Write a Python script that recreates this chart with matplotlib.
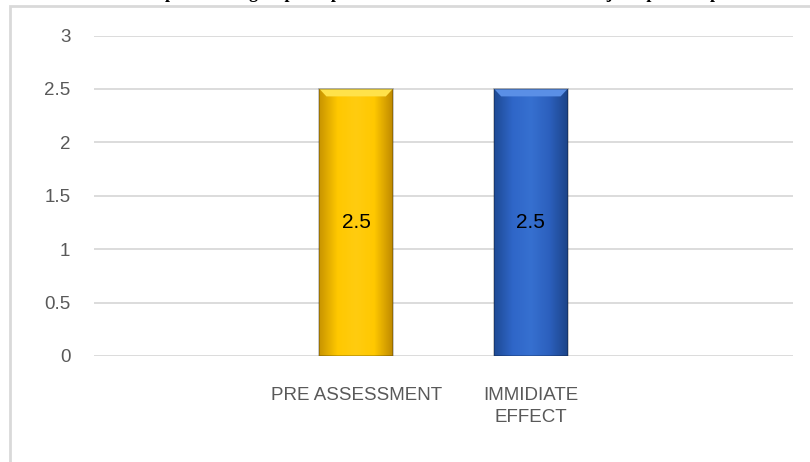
import numpy as np
import matplotlib
matplotlib.use("Agg")
import matplotlib.pyplot as plt
from matplotlib.colors import LinearSegmentedColormap
from matplotlib.patches import Rectangle, Polygon

categories = ["", "PRE ASSESSMENT", "IMMIDIATE\nEFFECT", ""]
values = [None, 2.5, 2.5, None]
yticks = [0, 0.5, 1, 1.5, 2, 2.5, 3]
title = "Graph 1: Intragroup comparison of NPRS in between the subjects pre and post test"

# side-dark / middle-light colours per bar, and a lighter top bevel
bar_shades = {
    1: ["#C89400", "#FFC800", "#FFCC10", "#FFC800", "#BF8A00"],
    2: ["#1E4A94", "#2F66C8", "#3670D0", "#2C60BE", "#1C4488"],
}
bevel = {1: "#FFE24A", 2: "#5A8FE6"}

fig = plt.figure(figsize=(8.1, 4.62), dpi=100)
ax = fig.add_axes([94 / 810, 1 - 356 / 462, (793 - 94) / 810, (356 - 35.5) / 462])

x = np.arange(len(categories))
w = 0.42
for i, v in enumerate(values):
    if v is None:
        continue
    bar = ax.bar(x[i], v, width=w, color="none", edgecolor="none", zorder=3)[0]
    cmap = LinearSegmentedColormap.from_list("b%d" % i, bar_shades[i])
    grad = np.linspace(0, 1, 200).reshape(1, -1)
    im = ax.imshow(grad, cmap=cmap, aspect="auto", zorder=3,
                   extent=[x[i] - w / 2, x[i] + w / 2, 0, v])
    im.set_clip_path(bar)
    # bevel at the top
    l, r = x[i] - w / 2, x[i] + w / 2
    ax.add_patch(Polygon([(l, v), (r, v), (r - 0.04, v - 0.07), (l + 0.04, v - 0.07)],
                         closed=True, color=bevel[i], zorder=4, lw=0))
    ax.add_patch(Rectangle((l, 0), w, v, fill=False,
                           edgecolor="#00000040", lw=1.2, zorder=5))
    ax.text(x[i], v / 2, "%g" % v, ha="center", va="center",
            fontsize=15, family="Liberation Sans", color="black", zorder=6)

ax.set_xlim(-0.5, len(categories) - 0.5)
ax.set_ylim(0, 3)
ax.set_yticks(yticks)
ax.set_yticklabels(["%g" % t for t in yticks])
ax.set_xticks(x)
ax.set_xticklabels(categories, linespacing=1.45)
ax.grid(axis="y", color="#D9D9D9", lw=1.3, zorder=0)
for s in ax.spines.values():
    s.set_visible(False)
ax.tick_params(length=0, labelsize=13.5, labelcolor="#595959")
ax.tick_params(axis="y", pad=17)
ax.tick_params(axis="x", pad=22)
for lab in ax.get_xticklabels() + ax.get_yticklabels():
    lab.set_family("Liberation Sans")
for lab in ax.get_yticklabels():
    lab.set_horizontalalignment("right")

# outer chart frame
fig.add_artist(Rectangle((10 / 810, -0.1), 1.2, 1 - 6 / 462 + 0.1,
                         transform=fig.transFigure, fill=False,
                         edgecolor="#D9D9D9", lw=2))

# title sits mostly above the picture, only its bottom edge shows
fig.text(0.56, 1 + 1.5 / 462, title, ha="center", va="baseline",
         fontsize=13, fontweight="bold", family="Liberation Serif")

fig.savefig("out.png", dpi=100)
